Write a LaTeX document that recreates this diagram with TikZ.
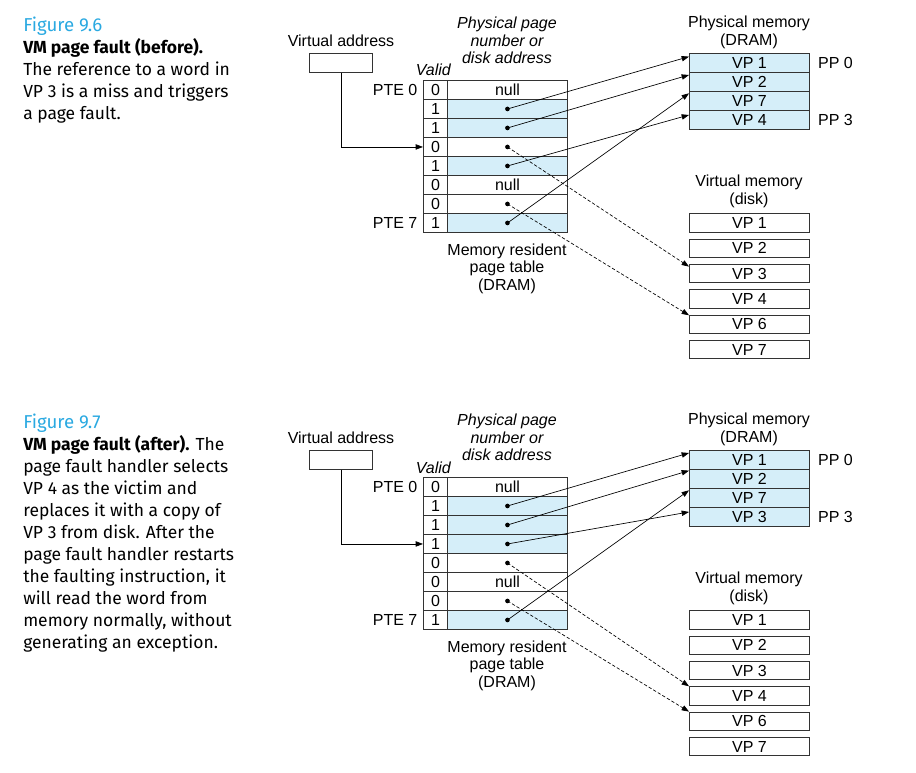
\documentclass[tikz,border=0pt]{standalone}
\usepackage{fontspec}
\setmainfont{Liberation Sans}
\newfontfamily\capfont{Fira Sans}
\usetikzlibrary{arrows.meta, positioning}
\definecolor{pageblue}{HTML}{D5EEF9}
\definecolor{figblue}{HTML}{2AA9E1}
\definecolor{edge}{HTML}{333333}
\tikzset{
    cell/.style={rectangle, draw=edge, line width=0.7pt, anchor=north west, inner sep=0pt, minimum height=14.25pt, font=\fontsize{12}{13.2}\selectfont},
    validcell/.style={cell, minimum width=18pt},
    ppncell/.style={cell, minimum width=90pt},
    pmcell/.style={cell, minimum width=90pt, fill=pageblue},
    diskcell/.style={cell, minimum width=90pt, minimum height=13.8pt},
    vabox/.style={cell, minimum width=47.25pt},
    dot/.style={circle, fill=black, inner sep=0pt, minimum size=3.5pt},
    txt/.style={font=\fontsize{12}{13.2}\selectfont, align=center, inner sep=0pt},
    itxt/.style={txt, font=\fontsize{12}{13.2}\selectfont\itshape},
    tag/.style={txt, inner sep=4pt},
    caption/.style={font=\capfont\fontsize{13.1}{16.5}\selectfont, align=left, anchor=north west, inner sep=0pt},
    arrow/.style={line width=0.5pt, -{Triangle[length=5.5pt, width=4pt]}},
    diskarrow/.style={arrow, dash pattern=on 2.5pt off 1.5pt}
}
\newcommand\figtitle[1]{\rule{0pt}{10pt}{\fontsize{14}{16.5}\selectfont\textcolor{figblue}{#1}}}
\begin{document}
\begin{tikzpicture}[x=0.75pt, y=-0.75pt]
    \useasboundingbox (0,0) rectangle (916,773);

    \begin{scope}[name prefix=a-]
        \node[caption] (cap) at (23,16.7) {\figtitle{Figure 9.6}\\
            \textbf{VM page fault (before).}\\
            The reference to a word in\\
            VP 3 is a miss and triggers\\
            a page fault.};
        \node[txt, anchor=base] (va) at (341,46.7) {Virtual address};
        \node[vabox] (vabox) at (309,53) {};
        \node[itxt, anchor=north] (ppnlabel) at (507,16.7) {Physical page\\number or\\disk address};
        \node[itxt, anchor=base] (valid) at (433.3,76) {Valid};
        \foreach \v/\txt/\col [count=\i from 0] in {0/null/white, 1//pageblue, 1//pageblue, 0//white, 1//pageblue, 0/null/white, 0//white, 1//pageblue} {
            \node[validcell] (v\i) at (423,{80+19*\i}) {\v};
            \node[ppncell, fill=\col] (p\i) at (447,{80+19*\i}) {\txt};
        }
        \foreach \i in {1,2,3,4,6,7}
            \node[dot] (d\i) at (p\i) {};
        \node[tag, left=0pt of v0] (pte0) {PTE 0};
        \node[tag, left=0pt of v7] (pte7) {PTE 7};
        \node[txt, anchor=north] (ptlabel) at (507,243.3) {Memory resident\\page table\\(DRAM)};
        \draw[arrow] (vabox.south) |- (v3.west);

        \node[txt, anchor=north] (pmlabel) at (749,15.7) {Physical memory\\(DRAM)};
        \foreach \vp [count=\i from 0] in {1,2,7,4}
            \node[pmcell] (m\i) at (689,{53.3+19*\i}) {VP \vp};
        \node[tag, right=2pt of m0] (pp0) {PP 0};
        \node[tag, right=2pt of m3] (pp3) {PP 3};

        \node[txt, anchor=north] (vmlabel) at (749,175) {Virtual memory\\(disk)};
        \foreach \vp [count=\i from 0] in {1,2,3,4,6,7}
            \node[diskcell] (k\vp) at (689,{213.3+25.33*\i}) {VP \vp};

        \draw[arrow] (d1.center) -- ([yshift=-2.5pt]m0.north west);
        \draw[arrow] (d2.center) -- ([yshift=-2pt]m1.north west);
        \draw[arrow] (d4.center) -- ([yshift=-3.5pt]m3.north west);
        \draw[arrow] (d7.center) -- ([yshift=-1.5pt]m2.north west);
        \draw[diskarrow] (d3.center) -- ([yshift=-2pt]k3.north west);
        \draw[diskarrow] (d6.center) -- ([yshift=-0.5pt]k6.north west);
    \end{scope}

    \begin{scope}[shift={(0,397)}, name prefix=b-]
        \node[caption] (cap) at (23,16.7) {\figtitle{Figure 9.7}\\
            \textbf{VM page fault (after).} The\\
            page fault handler selects\\
            VP 4 as the victim and\\
            replaces it with a copy of\\
            VP 3 from disk. After the\\
            page fault handler restarts\\
            the faulting instruction, it\\
            will read the word from\\
            memory normally, without\\
            generating an exception.};
        \node[txt, anchor=base] (va) at (341,46.7) {Virtual address};
        \node[vabox] (vabox) at (309,53) {};
        \node[itxt, anchor=north] (ppnlabel) at (507,16.7) {Physical page\\number or\\disk address};
        \node[itxt, anchor=base] (valid) at (433.3,76) {Valid};
        \foreach \v/\txt/\col [count=\i from 0] in {0/null/white, 1//pageblue, 1//pageblue, 1//pageblue, 0//white, 0/null/white, 0//white, 1//pageblue} {
            \node[validcell] (v\i) at (423,{80+19*\i}) {\v};
            \node[ppncell, fill=\col] (p\i) at (447,{80+19*\i}) {\txt};
        }
        \foreach \i in {1,2,3,4,6,7}
            \node[dot] (d\i) at (p\i) {};
        \node[tag, left=0pt of v0] (pte0) {PTE 0};
        \node[tag, left=0pt of v7] (pte7) {PTE 7};
        \node[txt, anchor=north] (ptlabel) at (507,243.3) {Memory resident\\page table\\(DRAM)};
        \draw[arrow] (vabox.south) |- (v3.west);

        \node[txt, anchor=north] (pmlabel) at (749,15.7) {Physical memory\\(DRAM)};
        \foreach \vp [count=\i from 0] in {1,2,7,3}
            \node[pmcell] (m\i) at (689,{53.3+19*\i}) {VP \vp};
        \node[tag, right=2pt of m0] (pp0) {PP 0};
        \node[tag, right=2pt of m3] (pp3) {PP 3};

        \node[txt, anchor=north] (vmlabel) at (749,175) {Virtual memory\\(disk)};
        \foreach \vp [count=\i from 0] in {1,2,3,4,6,7}
            \node[diskcell] (k\vp) at (689,{213.3+25.33*\i}) {VP \vp};

        \draw[arrow] (d1.center) -- ([yshift=-2pt]m0.north west);
        \draw[arrow] (d2.center) -- ([yshift=-1pt]m1.north west);
        \draw[arrow] (d3.center) -- ([yshift=-3.5pt]m3.north west);
        \draw[arrow] (d7.center) -- ([yshift=-1.5pt]m2.north west);
        \draw[diskarrow] (d4.center) -- (k4.north west);
        \draw[diskarrow] (d6.center) -- (k6.north west);
    \end{scope}
\end{tikzpicture}
\end{document}
